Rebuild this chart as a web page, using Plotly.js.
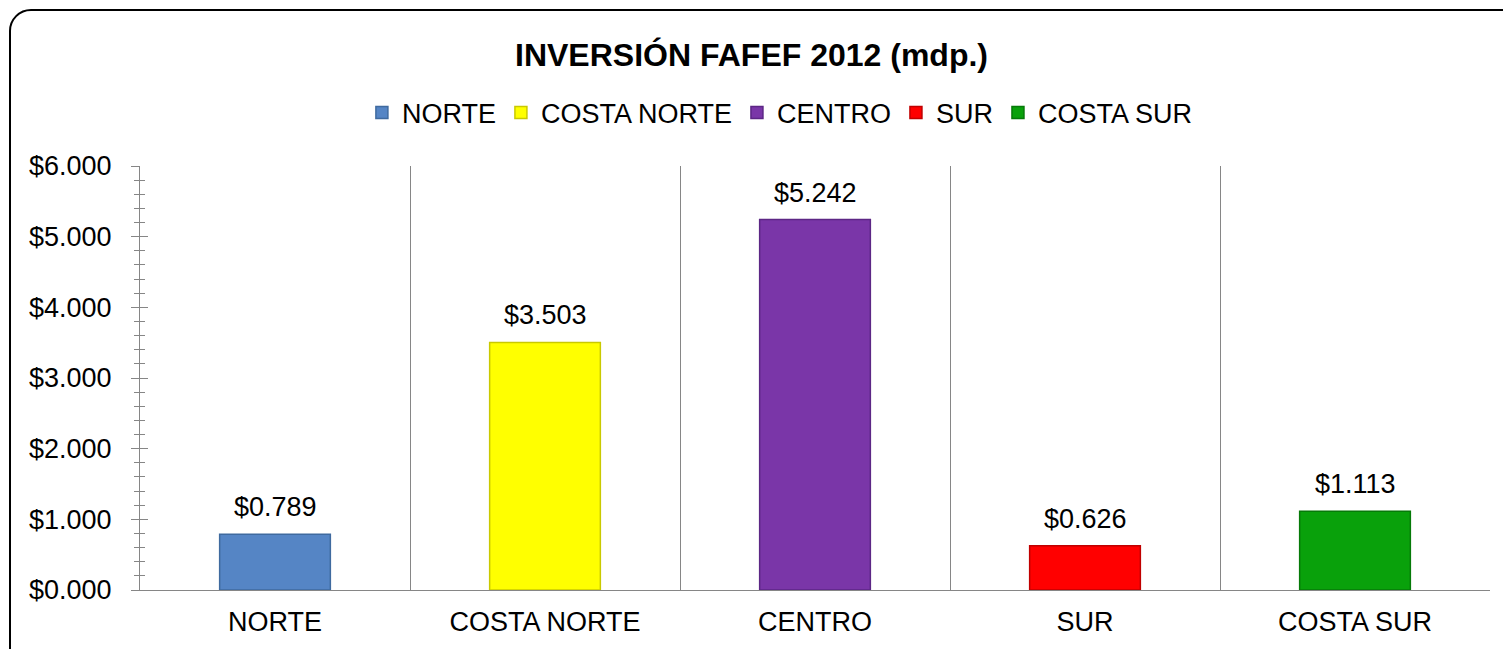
<!DOCTYPE html>
<html>
<head>
<meta charset="utf-8">
<script src="https://cdn.plot.ly/plotly-3.0.1.min.js"></script>
<style>
  body { margin: 0; background: #fff; }
  #plotArea { position: absolute; left: 0; top: 0; width: 1503px; height: 649px; }
  #frame { position: absolute; left: 9px; top: 9px; width: 1520px; height: 670px;
           border: 2px solid #000; border-radius: 22px; pointer-events: none; }
</style>
</head>
<body>
<div id="plotArea"></div>
<div id="frame"></div>
<script>
// regions and investment (mdp.)
var regions = ["NORTE", "COSTA NORTE", "CENTRO", "SUR", "COSTA SUR"];
var investment = [0.789, 3.503, 5.242, 0.626, 1.113];
var colors = ["#5585C5", "#FFFF00", "#7A36A8", "#FF0000", "#09A10B"];
var edges = ["#3F6A9F", "#C9C900", "#5C2685", "#C00000", "#067A08"];

var data = [];
for (var i = 0; i < regions.length; i++) {
    data.push({
        x: [regions[i]],
        y: [investment[i]],
        name: regions[i],
        type: "bar",
        width: 0.41,
        marker: {color: colors[i], line: {color: edges[i], width: 1.5}},
        hoverinfo: "skip"
    });
}
// dummy trace so the second (tick-only) axis gets drawn
data.push({x: [regions[0]], y: [0], yaxis: "y2", type: "scatter", mode: "markers",
           marker: {opacity: 0}, showlegend: false, hoverinfo: "skip"});

var labels = regions.map(function (r, i) {
    return {
        x: r, y: investment[i], xref: "x", yref: "y",
        text: "$" + investment[i].toFixed(3),
        showarrow: false, yanchor: "bottom", yshift: 10,
        font: {size: 27, color: "#000"}
    };
});

var tickCommon = {
    range: [0, 6],
    dtick: 1,
    linecolor: "#868686",
    linewidth: 1,
    tickcolor: "#868686",
    showgrid: false,
    zeroline: false,
    fixedrange: true
};

var layout = {
    title: {text: "<b>INVERSIÓN FAFEF 2012 (mdp.)</b>", x: 0.5, xanchor: "center",
            y: 0.915, yanchor: "middle",
            font: {size: 32, color: "#000", family: "Liberation Sans, Arial, sans-serif"}},
    font: {family: "Liberation Sans, Arial, sans-serif", size: 27, color: "#000"},
    showlegend: true,
    legend: {orientation: "h", x: 0.474, xanchor: "center", y: 1.125, yanchor: "middle",
             font: {size: 27}, itemwidth: 30, traceorder: "normal"},
    barmode: "overlay",
    margin: {l: 140, r: 13, t: 166, b: 59},
    xaxis: {
        type: "category",
        tickson: "boundaries",
        ticks: "",
        showgrid: true,
        gridcolor: "#868686",
        gridwidth: 1,
        showline: true,
        linecolor: "#868686",
        tickfont: {size: 27},
        ticklabelstandoff: 8,
        fixedrange: true
    },
    yaxis: Object.assign({}, tickCommon, {
        ticks: "outside",
        ticklen: 8,
        tickformat: "$.3f",
        tickfont: {size: 27},
        ticklabelstandoff: 14,
        showline: true,
        minor: {dtick: 0.2, ticks: "outside", ticklen: 5, tickcolor: "#868686"}
    }),
    yaxis2: Object.assign({}, tickCommon, {
        overlaying: "y",
        side: "left",
        ticks: "inside",
        ticklen: 8,
        showticklabels: false,
        showline: false,
        minor: {dtick: 0.2, ticks: "inside", ticklen: 5, tickcolor: "#868686"}
    }),
    annotations: labels,
    paper_bgcolor: "#fff",
    plot_bgcolor: "#fff"
};

Plotly.newPlot("plotArea", data, layout, {displayModeBar: false, staticPlot: true});
</script>
</body>
</html>
